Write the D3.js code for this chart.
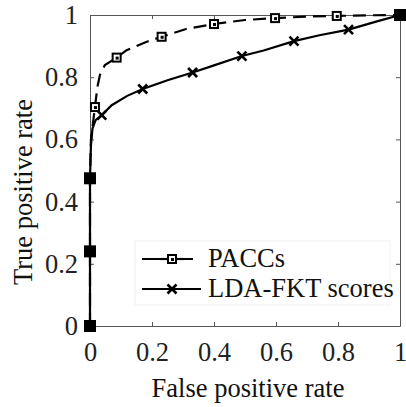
<!DOCTYPE html>
<html><head><meta charset="utf-8">
<script src="https://cdn.jsdelivr.net/npm/d3@7"></script>
<style>html,body{margin:0;padding:0;background:#fff;}svg{display:block;}</style>
</head><body>
<svg id="c" width="406" height="407"></svg>
<script>
// ---- data ----
const ticks = [0, 0.2, 0.4, 0.6, 0.8, 1];
const tickLabels = ["0", "0.2", "0.4", "0.6", "0.8", "1"];
const paccsLineX = [0, 0, 0, 0.003, 0.016, 0.024, 0.032, 0.048, 0.086, 0.118, 0.183, 0.231, 0.31, 0.4, 0.5, 0.597, 0.7, 0.796, 0.9, 1];
const paccsLineY = [0, 0.24, 0.475, 0.6, 0.704, 0.77, 0.807, 0.839, 0.863, 0.887, 0.914, 0.930, 0.955, 0.971, 0.984, 0.99, 0.995, 0.997, 0.999, 1];
const paccsMarkX = [0, 0, 0, 0.016, 0.086, 0.231, 0.40, 0.597, 0.796, 1];
const paccsMarkY = [0, 0.24, 0.475, 0.704, 0.863, 0.930, 0.971, 0.99, 0.997, 1];
const ldaLineX = [0, 0, 0, 0.003, 0.008, 0.018, 0.038, 0.07, 0.12, 0.17, 0.25, 0.331, 0.4, 0.49, 0.56, 0.658, 0.74, 0.834, 0.92, 1];
const ldaLineY = [0, 0.24, 0.475, 0.58, 0.635, 0.662, 0.678, 0.71, 0.74, 0.762, 0.79, 0.815, 0.838, 0.868, 0.886, 0.916, 0.935, 0.953, 0.978, 1];
const ldaMarkX = [0.038, 0.17, 0.331, 0.49, 0.658, 0.834];
const ldaMarkY = [0.678, 0.762, 0.815, 0.868, 0.916, 0.953];
const seriesNames = ["PACCs", "LDA-FKT scores"];
const xTitle = "False positive rate";
const yTitle = "True positive rate";

// ---- layout ----
const svg = d3.select("#c");
const L = 90, R = 400, T = 15, B = 326;
const x = d3.scaleLinear().domain([0, 1]).range([L, R]);
const y = d3.scaleLinear().domain([0, 1]).range([B, T]);
const font = "'Liberation Serif', 'Times New Roman', serif";
const fs = 26.5;
const txt = "#222";

// axes box
const axisColor = "#555";
svg.append("g").attr("transform", `translate(0,${B})`)
  .call(d3.axisBottom(x).tickValues(ticks).tickFormat((d, i) => tickLabels[i]).tickSizeInner(-4).tickSizeOuter(0).tickPadding(16))
  .call(g => { g.select(".domain").attr("stroke", axisColor); g.selectAll(".tick line").attr("stroke", axisColor);
    g.selectAll("text").attr("font-family", font).attr("font-size", fs).attr("fill", txt); });
svg.append("g").attr("transform", `translate(0,${T})`)
  .call(d3.axisTop(x).tickValues(ticks).tickFormat("").tickSizeInner(-4).tickSizeOuter(0))
  .call(g => { g.select(".domain").attr("stroke", axisColor); g.selectAll(".tick line").attr("stroke", axisColor); });
svg.append("g").attr("transform", `translate(${L},0)`)
  .call(d3.axisLeft(y).tickValues(ticks).tickFormat((d, i) => tickLabels[i]).tickSizeInner(-4).tickSizeOuter(0).tickPadding(12))
  .call(g => { g.select(".domain").attr("stroke", axisColor); g.selectAll(".tick line").attr("stroke", axisColor);
    g.selectAll("text").attr("font-family", font).attr("font-size", fs).attr("fill", txt); });
svg.append("g").attr("transform", `translate(${R},0)`)
  .call(d3.axisRight(y).tickValues(ticks).tickFormat("").tickSizeInner(-4).tickSizeOuter(0))
  .call(g => { g.select(".domain").attr("stroke", axisColor); g.selectAll(".tick line").attr("stroke", axisColor); });

// titles
svg.append("text").attr("x", 248).attr("y", 397).attr("text-anchor", "middle")
  .attr("font-family", font).attr("font-size", fs).attr("fill", "#111").text(xTitle);
svg.append("text").attr("transform", `translate(32,192) rotate(-90)`).attr("text-anchor", "middle")
  .attr("font-family", font).attr("font-size", fs).attr("fill", "#111").text(yTitle);

// lines
const line = d3.line().x(d => x(d[0])).y(d => y(d[1]));
const paccs = paccsLineX.map((v, i) => [v, paccsLineY[i]]);
const lda = ldaLineX.map((v, i) => [v, ldaLineY[i]]);
svg.append("path").attr("d", line(lda)).attr("fill", "none").attr("stroke", "#000").attr("stroke-width", 2.2);
svg.append("path").attr("d", line(paccs)).attr("fill", "none").attr("stroke", "#000").attr("stroke-width", 2.2)
  .attr("stroke-dasharray", "13,7");

// markers
function square(g, cx, cy, filled, s) {
  g.append("rect").attr("x", cx - s / 2).attr("y", cy - s / 2).attr("width", s).attr("height", s)
    .attr("fill", filled ? "#000" : "#fff").attr("stroke", "#000").attr("stroke-width", 2);
}
function cross(g, cx, cy, s) {
  g.append("path").attr("d", `M${cx - s},${cy - s}L${cx + s},${cy + s}M${cx - s},${cy + s}L${cx + s},${cy - s}`)
    .attr("stroke", "#000").attr("stroke-width", 2.6);
}
const mk = svg.append("g");
ldaMarkX.forEach((v, i) => cross(mk, x(v), y(ldaMarkY[i]), 4.5));
paccsMarkX.forEach((v, i) => {
  const filled = v === 0 || v === 1;
  square(mk, x(v), y(paccsMarkY[i]), filled, filled ? 10 : 8);
  if (!filled) mk.append("rect").attr("x", x(v) - 1).attr("y", y(paccsMarkY[i]) - 1).attr("width", 3).attr("height", 3).attr("fill", "#000");
});

// legend
const lg = svg.append("g");
lg.append("rect").attr("x", 135).attr("y", 241).attr("width", 255).attr("height", 64).attr("fill", "#fff").attr("stroke", "#f2f2f2");
const ly = [259, 289];
lg.append("path").attr("d", `M142,${ly[0]}H160M184,${ly[0]}H193`).attr("stroke", "#000").attr("stroke-width", 2.2);
lg.append("line").attr("x1", 160).attr("x2", 184).attr("y1", ly[0]).attr("y2", ly[0]).attr("stroke", "#000").attr("stroke-width", 2.2);
square(lg, 172, ly[0], false, 8);
lg.append("rect").attr("x", 171).attr("y", ly[0] - 1).attr("width", 3).attr("height", 3).attr("fill", "#000");
lg.append("line").attr("x1", 142).attr("x2", 201).attr("y1", ly[1]).attr("y2", ly[1]).attr("stroke", "#000").attr("stroke-width", 2.2);
cross(lg, 172, ly[1], 4.5);
seriesNames.forEach((n, i) => lg.append("text").attr("x", 208).attr("y", ly[i] + 8)
  .attr("font-family", font).attr("font-size", fs).attr("fill", "#111").text(n));
</script>
</body></html>
